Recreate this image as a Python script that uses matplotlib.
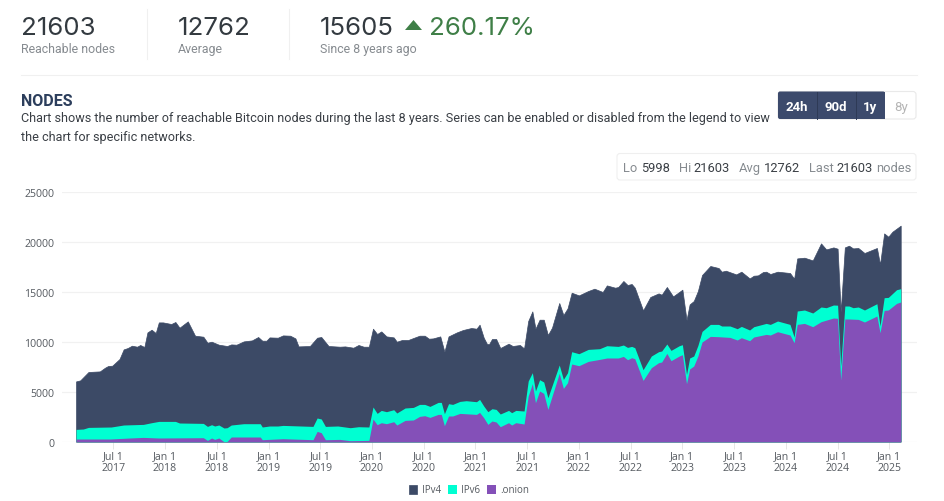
import matplotlib
matplotlib.use("Agg")
import matplotlib.pyplot as plt
from matplotlib.patches import FancyBboxPatch, Rectangle, Polygon

total_x = [2017.14,2017.18,2017.26,2017.37,2017.42,2017.45,2017.49,2017.56,2017.60,2017.64,2017.68,2017.73,2017.76,2017.80,2017.83,2017.87,2017.91,2017.94,2017.98,2018.06,2018.10,2018.14,2018.22,2018.29,2018.37,2018.41,2018.45,2018.52,2018.60,2018.64,2018.69,2018.76,2018.84,2018.90,2018.94,2018.98,2019.01,2019.09,2019.14,2019.21,2019.26,2019.29,2019.40,2019.47,2019.51,2019.58,2019.69,2019.74,2019.82,2019.87,2019.92,2019.97,2020.01,2020.05,2020.09,2020.14,2020.21,2020.24,2020.29,2020.35,2020.40,2020.46,2020.51,2020.55,2020.59,2020.66,2020.70,2020.74,2020.82,2020.88,2020.96,2021.01,2021.04,
           2021.08,2021.11,2021.13,2021.16,2021.20,2021.24,2021.32,2021.36,2021.43,2021.47,2021.51,2021.55,2021.58,2021.62,2021.66,2021.70,2021.74,2021.81,2021.85,2021.89,2021.93,2022.00,2022.09,2022.15,2022.23,2022.27,2022.35,2022.38,2022.43,2022.47,2022.51,2022.54,2022.62,2022.69,2022.77,2022.80,2022.85,2022.91,2023.00,2023.04,2023.07,2023.11,2023.15,2023.19,2023.27,2023.35,2023.38,2023.42,2023.52,2023.57,2023.65,2023.69,2023.73,2023.78,2023.81,2023.85,2023.92,2024.04,2024.08,2024.11,2024.18,2024.26,2024.34,2024.39,2024.46,2024.50,2024.53,2024.57,2024.61,2024.65,2024.70,2024.76,2024.88,2024.91,2024.95,2024.99,2025.03,2025.11]
total_y = [6030,6130,6970,7030,7400,7570,7600,8270,9230,9370,9600,9500,9670,9470,10930,11200,10870,11930,11930,11770,11970,11400,12030,10600,10500,9900,10000,9700,9570,9730,9700,10030,10130,10470,10100,10100,10430,10400,10630,10600,10330,9530,9570,10400,10470,9570,9500,9530,9400,9670,9500,9500,11300,10770,11030,10530,10430,10000,10170,10170,10370,10600,10600,10300,10330,10530,9000,10530,10930,11170,11370,11300,11700,
           10400,9800,9730,10270,10270,9370,9800,9570,9670,9330,12070,13030,11300,12200,12200,10670,11400,13870,12670,13330,14900,14630,15070,15300,14970,15630,15400,15470,16070,15670,15770,15400,13130,14470,14830,14700,15470,14530,15200,12170,13730,14070,15070,16670,17570,17370,17000,17100,16730,17000,16330,16600,16630,16970,17000,16770,17000,16870,16300,18330,18400,18130,19830,19230,19430,19300,13000,19430,19600,19330,19370,18870,19370,17730,20830,20500,21000,21603]

ipv6_x = [2017.14,2017.21,2017.26,2017.48,2017.60,2017.79,2017.87,2017.94,2018.10,2018.14,2018.37,2018.41,2018.45,2018.48,2018.52,2018.57,2018.60,2018.64,2018.76,2018.92,2018.94,2019.01,2019.09,2019.14,2019.43,2019.47,2019.51,2019.55,2019.67,2019.79,2019.87,2019.97,2020.01,2020.05,2020.09,2020.14,2020.21,2020.24,2020.32,2020.40,2020.46,2020.51,2020.56,2020.64,2020.67,2020.70,2020.74,2020.78,2020.85,2020.91,2021.01,2021.04,
          2021.08,2021.12,2021.16,2021.20,2021.24,2021.32,2021.35,2021.39,2021.47,2021.51,2021.55,2021.58,2021.62,2021.66,2021.70,2021.81,2021.85,2021.89,2021.93,2022.00,2022.09,2022.20,2022.27,2022.38,2022.43,2022.47,2022.51,2022.54,2022.62,2022.70,2022.77,2022.80,2022.85,2022.89,2022.97,2023.00,2023.04,2023.07,2023.11,2023.15,2023.19,2023.27,2023.35,2023.38,2023.46,2023.53,2023.57,2023.65,2023.69,2023.81,2023.85,2023.92,2024.04,2024.08,2024.11,2024.18,2024.26,2024.34,2024.39,2024.46,2024.50,2024.53,2024.57,2024.61,2024.65,2024.70,2024.76,2024.88,2024.91,2024.95,2024.99,2025.07,2025.11]
ipv6_y = [1230,1270,1430,1470,1670,1730,1900,2030,2030,1870,1830,1530,1700,1570,1670,1370,1400,1670,1800,1800,1470,1570,1570,1630,1530,2370,2270,1530,1570,1400,1500,1470,3470,2830,3130,3000,3200,2870,3370,3430,3730,3730,3530,3930,3930,2800,3800,3730,4030,4100,4000,4230,
          3570,3000,3300,3230,2770,3130,2900,3130,3070,6070,6900,5070,6200,5970,4400,7670,6230,6900,9000,8800,9230,9300,9600,9530,9670,9430,9530,9400,7200,8570,9000,9070,9770,9130,9600,9700,6730,8370,8570,9630,11030,11730,11730,11570,11570,11300,11530,11170,11500,11830,11730,12070,11730,10470,13070,13170,12870,13470,13400,13670,13650,7570,13570,13570,13400,13470,13170,13800,11570,14400,14430,15200,15300]

onion_x = [2017.14,2017.47,2017.66,2017.79,2017.94,2018.37,2018.41,2018.45,2018.48,2018.52,2018.57,2018.60,2018.64,2018.92,2018.94,2019.14,2019.43,2019.47,2019.51,2019.55,2019.69,2019.79,2019.97,2020.01,2020.05,2020.09,2020.14,2020.21,2020.24,2020.32,2020.40,2020.46,2020.51,2020.56,2020.64,2020.67,2020.70,2020.74,2020.78,2020.85,2021.01,2021.04,
           2021.08,2021.12,2021.16,2021.20,2021.24,2021.32,2021.35,2021.39,2021.47,2021.51,2021.55,2021.58,2021.62,2021.66,2021.70,2021.81,2021.85,2021.89,2021.93,2022.00,2022.09,2022.20,2022.27,2022.38,2022.43,2022.47,2022.51,2022.54,2022.62,2022.70,2022.77,2022.80,2022.85,2022.89,2022.97,2023.00,2023.04,2023.07,2023.11,2023.15,2023.19,2023.27,2023.35,2023.46,2023.53,2023.57,2023.65,2023.69,2023.81,2023.85,2023.92,2024.04,2024.08,2024.11,2024.18,2024.26,2024.34,2024.46,2024.50,2024.53,2024.57,2024.61,2024.70,2024.76,2024.88,2024.91,2024.95,2024.99,2025.07,2025.11]
onion_y = [270,270,370,430,370,400,130,370,230,370,0,30,470,470,200,300,200,1030,900,200,230,100,130,2270,1700,1900,1800,2000,1670,2130,2170,2530,2600,2430,2730,2730,1600,2570,2570,2830,2730,2930,
           2400,1730,2070,1970,1500,1900,1670,1900,1770,4570,5800,3900,5070,4830,3230,6830,5330,5900,7770,7600,8030,8230,8370,8370,8530,8200,8400,8300,6130,7400,7900,7970,8830,8100,8570,8700,5800,7270,7570,8570,9970,10530,10500,10430,10170,10400,10100,10470,10730,10670,11000,10670,9900,11730,11830,11500,12000,12370,12340,6170,12270,12270,12230,11970,12570,10900,13130,13170,13830,13970]

series_names = ["IPv4", "IPv6", ".onion"]
y_ticks = [0, 5000, 10000, 15000, 20000, 25000]
x_tick_pos = [2017.5 + 0.5 * i for i in range(16)]
x_tick_labels = [f"{'Jul 1' if i % 2 == 0 else 'Jan 1'}\n{2017 + (i + 1) // 2}" for i in range(16)]

W, H = 945, 502
DARK, TEAL, PURPLE = "#3c4a66", "#00ffd2", "#8450b8"
plt.rcParams["font.family"] = ["Open Sans", "DejaVu Sans"]
fig = plt.figure(figsize=(W / 100, H / 100), dpi=100, facecolor="white")

# page chrome, in pixel coordinates
ui = fig.add_axes([0, 0, 1, 1], zorder=0)
ui.set_xlim(0, W); ui.set_ylim(H, 0); ui.axis("off")
HEAD = "Roboto"
def t(x, y, s, size, color, **kw):
    kw.setdefault("family", HEAD)
    return ui.text(x, y, s, fontsize=size, color=color, va="baseline", **kw)

for x, s in [(21, "21603"), (178, "12762"), (320, "15605")]:
    t(x, 35, s, 18.6, "#333a40", family="Inter")
t(429, 35, "260.17%", 18.6, "#3f7f47", family="Inter")
ui.add_patch(Polygon([(405, 31), (422, 31), (413.5, 21)], closed=True, fc="#3f7f47", ec="none"))
for x, s in [(21, "Reachable nodes"), (178, "Average"), (320, "Since 8 years ago")]:
    t(x, 53, s, 8.9, "#868b90")
for x in (147, 289):
    ui.plot([x, x], [10, 60], color="#f0f0f0", lw=0.8)
ui.plot([21, 917], [76, 76], color="#f0f0f0", lw=0.8)
t(21, 106, "NODES", 11.5, "#2c3e5c", fontweight="bold")
t(21, 122, "Chart shows the number of reachable Bitcoin nodes during the last 8 years. Series can be enabled or disabled from the legend to view", 9.08, "#3a3f45")
t(21, 141, "the chart for specific networks.", 9.08, "#3a3f45")

ui.add_patch(FancyBboxPatch((778, 92.5), 138, 27.5, boxstyle="round,pad=0,rounding_size=3", fc="white", ec="#e9e9e9", lw=0.8))
ui.add_patch(FancyBboxPatch((778, 92.5), 107, 27.5, boxstyle="round,pad=0,rounding_size=2", fc="#3c4a6c", ec="none"))
ui.add_patch(Rectangle((880, 92.5), 5, 27.5, fc="#3c4a6c", ec="none"))
for x in (816.5, 855.5):
    ui.plot([x, x], [92.5, 120], color="#2e3a56", lw=0.7)
for x, s, c in [(797, "24h", "white"), (836, "90d", "white"), (870.5, "1y", "white"), (901, "8y", "#b5b5b5")]:
    t(x, 111, s, 9.5, c, ha="center", fontweight="bold" if c == "white" else "normal")

ui.add_patch(FancyBboxPatch((617, 154.5), 299, 26.5, boxstyle="round,pad=0,rounding_size=3", fc="white", ec="#efefef", lw=0.8))
for x, s, c in [(623.5, "Lo", "#868b90"), (641, "5998", "#3a3f45"), (679, "Hi", "#868b90"), (693, "21603", "#3a3f45"),
                (739, "Avg", "#868b90"), (764, "12762", "#3a3f45"), (809, "Last", "#868b90"), (836, "21603", "#3a3f45"),
                (876, "nodes", "#868b90")]:
    t(x, 172, s, 9.3, c)

# chart
def px_year(px):
    return 2017.5 + (px - 113.3) / 103.47

ax = fig.add_axes([62 / W, 1 - 442.7 / H, (917 - 62) / W, 250 / H], zorder=1)
ax.patch.set_alpha(0)
ax.set_xlim(px_year(62), px_year(917))
ax.set_ylim(0, 25000)
for s in ax.spines.values():
    s.set_visible(False)
ax.set_axisbelow(True)
ax.grid(axis="y", color="#f1f1f1", lw=0.9)
h1 = ax.fill_between(total_x, 0, total_y, color=DARK, lw=0.5, label=series_names[0], zorder=2)
h2 = ax.fill_between(ipv6_x, 0, ipv6_y, color=TEAL, lw=0, label=series_names[1], zorder=3)
h3 = ax.fill_between(onion_x, 0, onion_y, color=PURPLE, lw=0, label=series_names[2], zorder=4)
ax.set_yticks(y_ticks)
ax.set_xticks(x_tick_pos)
ax.set_xticklabels(x_tick_labels, linespacing=1.12)
ax.tick_params(axis="y", length=0, pad=5.5, labelsize=7.6, labelcolor="#555a60")
ax.tick_params(axis="x", length=5, width=0.7, color="#e6e6e6", pad=1, labelsize=7.6, labelcolor="#555a60")

leg = ax.legend(handles=[h1, h2, h3], loc="center", bbox_to_anchor=(469 / W, 1 - 491 / H), bbox_transform=fig.transFigure,
                ncol=3, frameon=False, fontsize=7, handlelength=0.9, handleheight=1.0, handletextpad=0.45, columnspacing=0.75,
                labelcolor="#555a60", borderpad=0)

fig.savefig("out.png", dpi=100)
